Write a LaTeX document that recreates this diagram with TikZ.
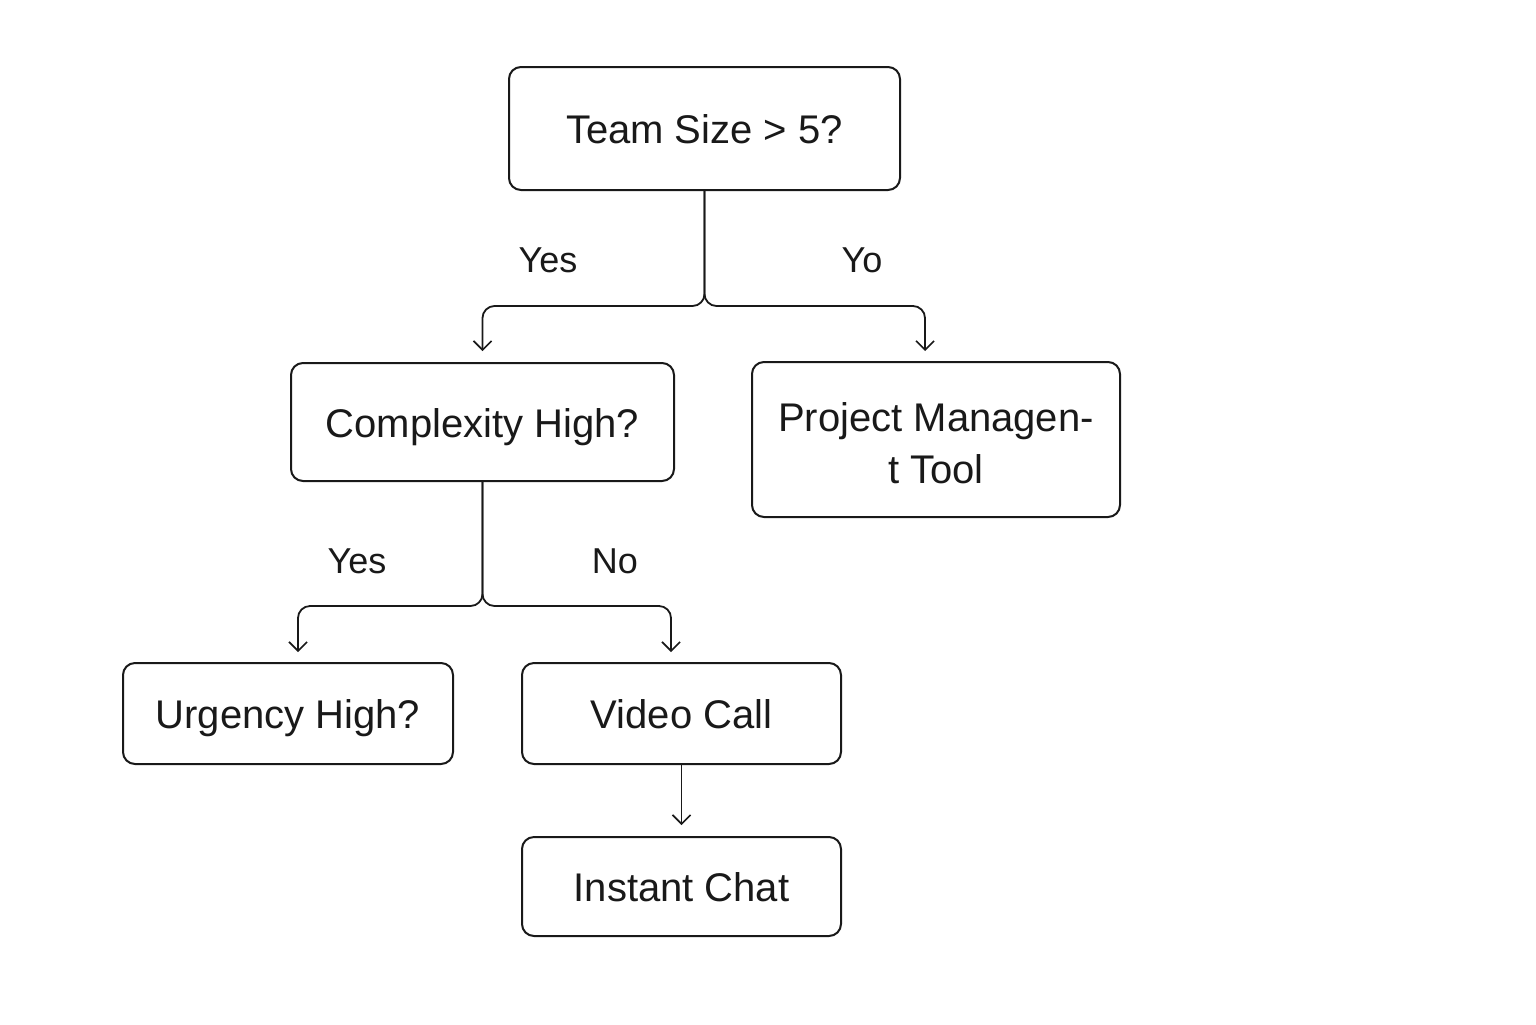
\documentclass[tikz,border=0pt]{standalone}
\usepackage{fontspec}
\setmainfont{Liberation Sans}
\usetikzlibrary{arrows.meta}
\begin{document}
\begin{tikzpicture}[x=0.5pt,y=-0.5pt,
  box/.style={draw=black!90,line width=1pt,rounded corners=6pt,inner sep=0pt,
    font=\fontsize{20pt}{26pt}\selectfont,text=black!90,align=center},
  onel/.style={text height=17pt,text depth=2pt},
  lbl/.style={font=\fontsize{18pt}{20pt}\selectfont,text=black!90},
  conn/.style={draw=black!90,line width=0.9pt,rounded corners=6pt,
    -{Straight Barb[length=4.5pt,width=9pt,line width=0.8pt]},shorten >=5.5pt}]
\useasboundingbox (0,0) rectangle (1536,1024);
\node[box,onel,minimum width=195.5pt,minimum height=61.5pt] (top) at (704.5,128.5) {Team Size > 5?};
\node[box,onel,minimum width=191.5pt,minimum height=59pt] (cplx) at (482.5,422) {Complexity High?};
\node[box,minimum width=184pt,minimum height=77.5pt] (pm) at (936,439.5) {\rule{0pt}{0pt}\\[-8pt]Project Managen-\\t Tool};
\node[box,onel,minimum width=165pt,minimum height=50.5pt] (urg) at (288,713.5) {Urgency High?};
\node[box,onel,minimum width=159.5pt,minimum height=50.5pt] (vid) at (681.5,713.5) {Video Call};
\node[box,onel,minimum width=159.5pt,minimum height=49.5pt] (chat) at (681.5,886.5) {Instant Chat};
\coordinate (j1) at (704.5,306);
\coordinate (j2) at (482.5,606);
\coordinate (pmin) at (925,362);
\coordinate (urgin) at (298,663);
\coordinate (vidin) at (671,663);
\draw[conn] (top.south) -- (j1) -| (cplx.north);
\draw[conn] (top.south) -- (j1) -| (pmin);
\draw[conn] (cplx.south) -- (j2) -| (urgin);
\draw[conn] (cplx.south) -- (j2) -| (vidin);
\draw[conn] (vid.south) -- (chat.north);
\node[lbl] (l1) at (548,260) {Yes};
\node[lbl] (l2) at (862,260) {Yo};
\node[lbl] (l3) at (357,561) {Yes};
\node[lbl] (l4) at (615,561) {No};
\end{tikzpicture}
\end{document}
